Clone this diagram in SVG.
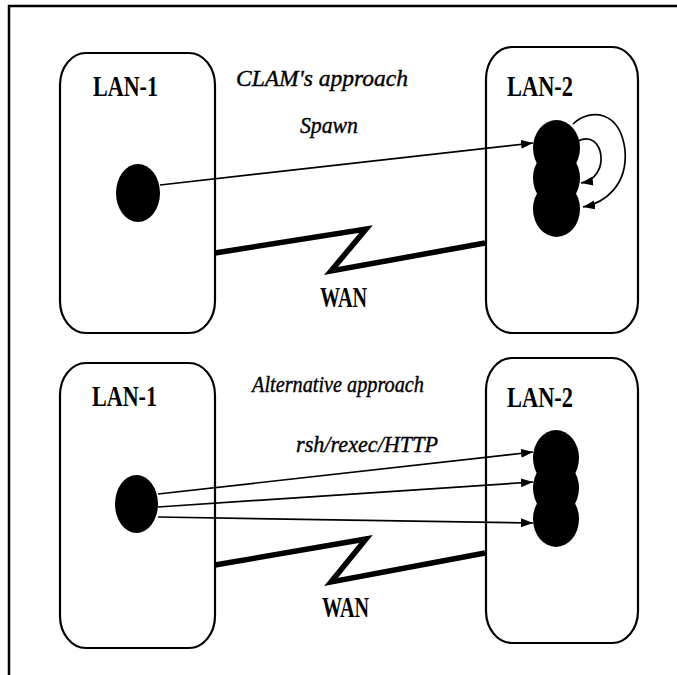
<svg xmlns="http://www.w3.org/2000/svg" width="677" height="675" viewBox="0 0 677 675">
  <defs>
    <marker id="arrow" markerUnits="userSpaceOnUse" markerWidth="14" markerHeight="10" refX="12" refY="4.5" orient="auto">
      <path d="M0,0 L12,4.5 L0,9 z" fill="#000"/>
    </marker>
  </defs>
  <style>
    .frame{fill:none;stroke:#000;stroke-width:2.5}
    .lan{fill:none;stroke:#000;stroke-width:2.2}
    .host{fill:#000}
    .link{fill:none;stroke:#000;stroke-width:1.7;marker-end:url(#arrow)}
    .wan{fill:none;stroke:#000;stroke-width:5.5;stroke-linejoin:miter;stroke-miterlimit:6}
    .lbl{font-family:"Liberation Serif","Times New Roman",serif;font-weight:bold;font-size:29px;fill:#000}
    .cap{font-family:"Liberation Serif","Times New Roman",serif;font-style:italic;font-size:24px;fill:#000;stroke:#000;stroke-width:0.4}
  </style>

  <rect width="677" height="675" fill="#fff"/>
  <!-- outer frame: top and left edges -->
  <path class="frame" d="M9,675 V6 H677"/>

  <!-- upper scenario -->
  <g id="lan1-top">
    <rect class="lan" x="60" y="53" width="155" height="280" rx="26" ry="32"/>
    <text class="lbl" x="93" y="96" textLength="65" lengthAdjust="spacingAndGlyphs">LAN-1</text>
  </g>
  <g id="host-top">
    <ellipse class="host" cx="138" cy="193" rx="22" ry="29"/>
  </g>
  <g id="lan2-top">
    <rect class="lan" x="486" y="47" width="152" height="286" rx="26" ry="32"/>
    <text class="lbl" x="507" y="96" textLength="66" lengthAdjust="spacingAndGlyphs">LAN-2</text>
  </g>
  <g id="procs-top">
    <ellipse class="host" cx="556.5" cy="148" rx="23.5" ry="28"/>
    <ellipse class="host" cx="556.5" cy="178" rx="23.5" ry="28"/>
    <ellipse class="host" cx="556.5" cy="209" rx="23.5" ry="28"/>
  </g>
  <text class="cap" x="236" y="86" textLength="172" lengthAdjust="spacingAndGlyphs">CLAM's approach</text>
  <text class="cap" x="300" y="133" textLength="58" lengthAdjust="spacingAndGlyphs">Spawn</text>
  <text class="lbl" x="320" y="307" textLength="47" lengthAdjust="spacingAndGlyphs">WAN</text>

  <!-- lower scenario -->
  <g id="lan1-bottom">
    <rect class="lan" x="60" y="363" width="155" height="285" rx="26" ry="32"/>
    <text class="lbl" x="92" y="406" textLength="65" lengthAdjust="spacingAndGlyphs">LAN-1</text>
  </g>
  <g id="host-bottom">
    <ellipse class="host" cx="136.5" cy="504" rx="21.5" ry="29"/>
  </g>
  <g id="lan2-bottom">
    <rect class="lan" x="486" y="358" width="152" height="285" rx="26" ry="32"/>
    <text class="lbl" x="507" y="407" textLength="66" lengthAdjust="spacingAndGlyphs">LAN-2</text>
  </g>
  <g id="procs-bottom">
    <ellipse class="host" cx="556" cy="458" rx="23" ry="28"/>
    <ellipse class="host" cx="556" cy="488" rx="23" ry="28"/>
    <ellipse class="host" cx="556" cy="519" rx="23" ry="28"/>
  </g>
  <text class="cap" x="252" y="392" textLength="172" lengthAdjust="spacingAndGlyphs">Alternative approach</text>
  <text class="cap" x="296" y="452" textLength="142" lengthAdjust="spacingAndGlyphs">rsh/rexec/HTTP</text>
  <text class="lbl" x="322" y="617" textLength="47" lengthAdjust="spacingAndGlyphs">WAN</text>

  <!-- connectors -->
  <g id="connectors">
    <path class="link" d="M160,185 L533,143"/>
    <path class="link" d="M578,141 C604,128 612,178 581,183"/>
    <path class="link" d="M573,124 C590,108 620,110 625,150 C628,185 605,203 583,207"/>
    <path class="wan" d="M215,253 L366,229 L331,271 L485,243"/>

    <path class="link" d="M158,494 L533,452"/>
    <path class="link" d="M158,507 L533,482"/>
    <path class="link" d="M158,517 L533,523"/>
    <path class="wan" d="M215,565 L366,539 L331,582 L485,553"/>
  </g>
</svg>
